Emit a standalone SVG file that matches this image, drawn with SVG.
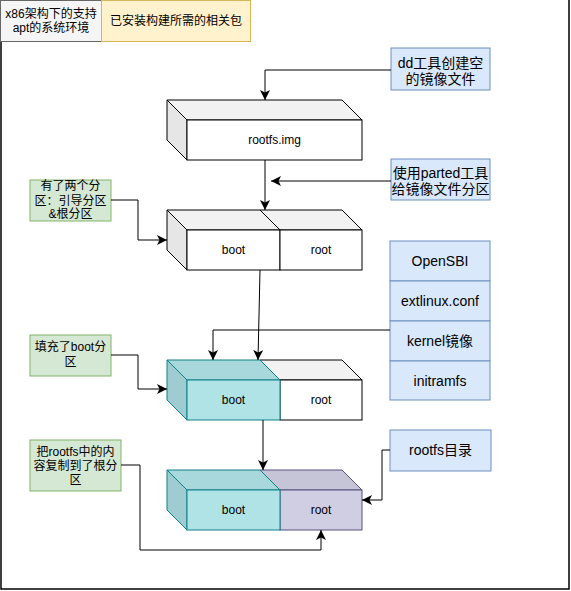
<svg xmlns="http://www.w3.org/2000/svg" width="571" height="591" viewBox="0 0 571 591">
<defs>
<marker id="arr" viewBox="0 0 10 10" refX="10" refY="5" markerWidth="10" markerHeight="10" markerUnits="userSpaceOnUse" orient="auto">
<path d="M0,0 L10,5 L0,10 L2.5,5 Z" fill="#000"/>
</marker>
<style>
text{font-family:"Liberation Sans","Noto Sans CJK SC",Arial,sans-serif;fill:#000;text-anchor:middle}
.t12{font-size:12px}
.t14{font-size:14px}
.blue{fill:#dae8fc;stroke:#6c8ebf;stroke-width:1}
.green{fill:#d5e8d4;stroke:#82b366;stroke-width:1}
.wf{fill:#fff;stroke:#000;stroke-width:1}
.wt{fill:#f2f2f2;stroke:#000;stroke-width:1}
.ws{fill:#e6e6e6;stroke:#000;stroke-width:1}
.tf{fill:#b0e3e6;stroke:#0e8088;stroke-width:1}
.tt{fill:#a8d8db;stroke:#0e8088;stroke-width:1}
.ts{fill:#9fccd0;stroke:#0e8088;stroke-width:1}
.pf{fill:#d0cee2;stroke:#56517e;stroke-width:1}
.pt{fill:#c6c4d7;stroke:#56517e;stroke-width:1}
.conn{fill:none;stroke:#000;stroke-width:1}
</style>
</defs>
<rect x="1" y="-2" width="568" height="591" fill="#fff" stroke="#000" stroke-width="1.5"/>
<g id="header-env">
<rect x="0.5" y="0.5" width="101" height="41" fill="#f5f5f5" stroke="#666"/>
<text class="t12" x="51" y="18">x86架构下的支持</text>
<text class="t12" x="51" y="32">apt的系统环境</text>
</g>
<g id="header-pkg">
<rect x="101.5" y="0.5" width="149" height="41" fill="#fff2cc" stroke="#d6b656"/>
<text class="t12" x="176" y="25">已安装构建所需的相关包</text>
</g>
<g id="dd-note">
<rect class="blue" x="391" y="48" width="99" height="42"/>
<text class="t14" x="440.5" y="68">dd工具创建空</text>
<text class="t14" x="440.5" y="84">的镜像文件</text>
</g>
<g id="parted-note">
<rect class="blue" x="391" y="159" width="99" height="41"/>
<text class="t14" x="440.5" y="178">使用parted工具</text>
<text class="t14" x="440.5" y="194">给镜像文件分区</text>
</g>
<g id="cube-img">
<polygon class="wt" points="167,100 342,100 362,120 187,120"/>
<polygon class="ws" points="167,100 187,120 187,160 167,140"/>
<rect class="wf" x="187" y="120" width="175" height="40"/>
<text class="t12" x="274.5" y="144">rootfs.img</text>
</g>
<g id="note-two-parts">
<rect class="green" x="30" y="180" width="81" height="41"/>
<text class="t12" x="70.5" y="190">有了两个分</text>
<text class="t12" x="70.5" y="205">区：引导分区</text>
<text class="t12" x="70.5" y="218">&amp;根分区</text>
</g>
<g id="cube-parted">
<polygon class="wt" points="260,210 342,210 362,230 280,230"/>
<polygon class="wt" points="167,210 260,210 280,230 187,230"/>
<polygon class="ws" points="167,210 187,230 187,270 167,250"/>
<rect class="wf" x="187" y="230" width="93" height="40"/>
<rect class="wf" x="280" y="230" width="82" height="40"/>
<text class="t12" x="233.5" y="254">boot</text>
<text class="t12" x="321" y="254">root</text>
</g>
<g id="boot-files">
<rect class="blue" x="390" y="241" width="100" height="40"/>
<rect class="blue" x="390" y="281" width="100" height="40"/>
<rect class="blue" x="390" y="321" width="100" height="40"/>
<rect class="blue" x="390" y="361" width="100" height="39"/>
<text class="t14" x="440" y="266">OpenSBI</text>
<text class="t14" x="440" y="306">extlinux.conf</text>
<text class="t14" x="440" y="346">kernel镜像</text>
<text class="t14" x="440" y="386">initramfs</text>
</g>
<g id="note-boot-filled">
<rect class="green" x="30" y="335" width="81" height="41"/>
<text class="t12" x="70.5" y="351">填充了boot分</text>
<text class="t12" x="70.5" y="366">区</text>
</g>
<g id="cube-boot-filled">
<polygon class="wt" points="260,360 342,360 362,380 280,380"/>
<rect class="wf" x="280" y="380" width="82" height="40"/>
<polygon class="tt" points="167,360 260,360 280,380 187,380"/>
<polygon class="ts" points="167,360 187,380 187,420 167,400"/>
<rect class="tf" x="187" y="380" width="93" height="40"/>
<text class="t12" x="233.5" y="404">boot</text>
<text class="t12" x="321" y="404">root</text>
</g>
<g id="rootfs-dir">
<rect class="blue" x="390" y="430" width="101" height="41"/>
<text class="t14" x="440.5" y="455">rootfs目录</text>
</g>
<g id="note-rootfs-copied">
<rect class="green" x="30" y="440" width="91" height="51"/>
<text class="t12" x="75.5" y="456">把rootfs中的内</text>
<text class="t12" x="75.5" y="470">容复制到了根分</text>
<text class="t12" x="75.5" y="484">区</text>
</g>
<g id="cube-final">
<polygon class="pt" points="260,470 342,470 362,490 280,490"/>
<rect class="pf" x="280" y="490" width="82" height="40"/>
<polygon class="tt" points="167,470 260,470 280,490 187,490"/>
<polygon class="ts" points="167,470 187,490 187,530 167,510"/>
<rect class="tf" x="187" y="490" width="93" height="40"/>
<text class="t12" x="233.5" y="514">boot</text>
<text class="t12" x="321" y="514">root</text>
</g>
<g id="connectors">
<path class="conn" d="M391,70 H265 V100" marker-end="url(#arr)"/>
<path class="conn" d="M391,181 H271" marker-end="url(#arr)"/>
<path class="conn" d="M265,160 V210" marker-end="url(#arr)"/>
<path class="conn" d="M111,200 H138 V240 H167" marker-end="url(#arr)"/>
<path class="conn" d="M260,270 L258,360" marker-end="url(#arr)"/>
<path class="conn" d="M390,330 H213 V360" marker-end="url(#arr)"/>
<path class="conn" d="M111,355 H138 V389 H167" marker-end="url(#arr)"/>
<path class="conn" d="M263,420 V470" marker-end="url(#arr)"/>
<path class="conn" d="M390,450 H382 V500 H362" marker-end="url(#arr)"/>
<path class="conn" d="M121,465 H140 V550 H321 V530" marker-end="url(#arr)"/>
</g>
</svg>
